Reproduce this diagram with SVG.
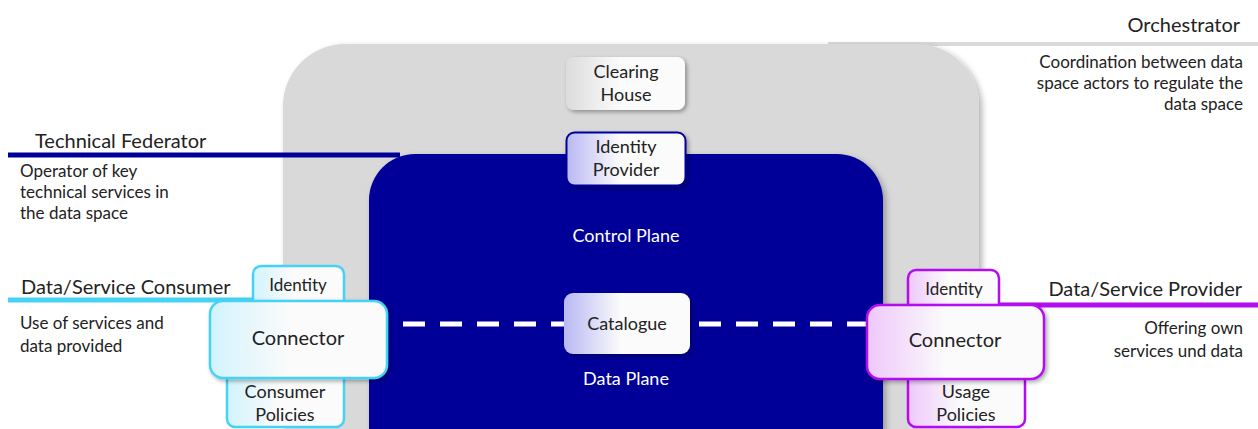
<svg xmlns="http://www.w3.org/2000/svg" width="1258" height="429" viewBox="0 0 1258 429">
<style>
text{font-family:Lato,"Noto Sans",sans-serif;fill:#222}
.lbl{font-size:20px}
.desc{font-size:17px}
.box{font-size:18px;text-anchor:middle}
.big{font-size:20px;text-anchor:middle}
.w{fill:#fff;font-size:18px;text-anchor:middle}
.end{text-anchor:end}
</style>
<defs>
<filter id="sh" x="-20%" y="-20%" width="150%" height="150%">
<feDropShadow dx="2" dy="2" stdDeviation="2" flood-color="#000" flood-opacity="0.35"/>
</filter>
<filter id="shg" x="-10%" y="-10%" width="130%" height="130%">
<feDropShadow dx="3" dy="3" stdDeviation="3" flood-color="#000" flood-opacity="0.3"/>
</filter>
<linearGradient id="gGray" x1="0" x2="1" y1="0" y2="0">
<stop offset="0" stop-color="#dcdcdc"/><stop offset="0.45" stop-color="#fbfbfb"/><stop offset="1" stop-color="#fbfbfb"/>
</linearGradient>
<linearGradient id="gBlue" x1="0" x2="1" y1="0" y2="0">
<stop offset="0" stop-color="#b8b8f4"/><stop offset="0.45" stop-color="#fbfbfb"/><stop offset="1" stop-color="#fbfbfb"/>
</linearGradient>
<linearGradient id="gCyan" x1="0" x2="1" y1="0" y2="0">
<stop offset="0" stop-color="#d2f3fc"/><stop offset="0.45" stop-color="#fbfbfb"/><stop offset="1" stop-color="#fbfbfb"/>
</linearGradient>
<linearGradient id="gPurp" x1="0" x2="1" y1="0" y2="0">
<stop offset="0" stop-color="#eec8fb"/><stop offset="0.45" stop-color="#fbfbfb"/><stop offset="1" stop-color="#fbfbfb"/>
</linearGradient>
</defs>
<rect width="1258" height="429" fill="#fff"/>

<g id="orchestrator">
<line x1="828" y1="44" x2="1258" y2="44" stroke="#d9d9d9" stroke-width="4"/>
<rect x="283" y="44" width="696" height="430" rx="62" fill="#d9d9d9" filter="url(#shg)"/>
<text class="lbl end" x="1240" y="32">Orchestrator</text>
<text class="desc end" x="1243" y="68">Coordination between data</text>
<text class="desc end" x="1243" y="89">space actors to regulate the</text>
<text class="desc end" x="1243" y="110">data space</text>
</g>

<g id="technical-federator">
<line x1="8" y1="155" x2="400" y2="155" stroke="#000099" stroke-width="5"/>
<rect x="369" y="154" width="514" height="320" rx="46" fill="#000099" filter="url(#shg)"/>
<text class="lbl" x="35" y="148">Technical Federator</text>
<text class="desc" x="20" y="177">Operator of key</text>
<text class="desc" x="20" y="198">technical services in</text>
<text class="desc" x="20" y="219">the data space</text>
<text class="w" x="626" y="242">Control Plane</text>
<text class="w" x="626" y="385">Data Plane</text>
</g>

<g id="connectors">
<line x1="403" y1="324" x2="866" y2="324" stroke="#fff" stroke-width="5" stroke-dasharray="22 15"/>
<line x1="8" y1="300" x2="254" y2="300" stroke="#45d3f5" stroke-width="5"/>
<line x1="998" y1="305" x2="1258" y2="305" stroke="#b30cf0" stroke-width="5"/>
</g>

<g id="clearing-house">
<rect x="566" y="57" width="119" height="53" rx="8" fill="url(#gGray)" filter="url(#sh)"/>
<text class="box" x="626" y="78">Clearing</text>
<text class="box" x="626" y="101">House</text>
</g>

<g id="identity-provider">
<rect x="566.5" y="132.5" width="119" height="53" rx="8" fill="url(#gBlue)" stroke="#000099" stroke-width="2" filter="url(#sh)"/>
<text class="box" x="626" y="153">Identity</text>
<text class="box" x="626" y="176">Provider</text>
</g>

<g id="catalogue">
<rect x="564" y="293" width="126" height="61" rx="9" fill="url(#gBlue)" filter="url(#sh)"/>
<text class="box" x="627" y="330">Catalogue</text>
</g>

<g id="consumer">
<text class="lbl" x="21" y="294">Data/Service Consumer</text>
<text class="desc" x="20" y="329">Use of services and</text>
<text class="desc" x="20" y="352">data provided</text>
<rect x="253" y="266" width="91" height="44" rx="8" fill="url(#gCyan)" stroke="#45d3f5" stroke-width="2.5"/>
<text class="box" x="298" y="291" style="font-size:17px">Identity</text>
<rect x="227" y="370" width="117" height="57" rx="8" fill="url(#gCyan)" stroke="#45d3f5" stroke-width="2.5"/>
<text class="box" x="285" y="398">Consumer</text>
<text class="box" x="285" y="421">Policies</text>
<rect x="210" y="301" width="177" height="77" rx="13" fill="url(#gCyan)" stroke="#45d3f5" stroke-width="2.5" filter="url(#sh)"/>
<text class="big" x="298" y="345">Connector</text>
</g>

<g id="provider">
<text class="lbl end" x="1242" y="296">Data/Service Provider</text>
<text class="desc end" x="1243" y="334">Offering own</text>
<text class="desc end" x="1243" y="357">services und data</text>
<rect x="908" y="270" width="91" height="44" rx="8" fill="url(#gPurp)" stroke="#b30cf0" stroke-width="2.5"/>
<text class="box" x="954" y="295" style="font-size:17px">Identity</text>
<rect x="908" y="370" width="117" height="57" rx="8" fill="url(#gPurp)" stroke="#b30cf0" stroke-width="2.5"/>
<text class="box" x="966" y="398">Usage</text>
<text class="box" x="966" y="421">Policies</text>
<rect x="867" y="305" width="177" height="74" rx="13" fill="url(#gPurp)" stroke="#b30cf0" stroke-width="2.5" filter="url(#sh)"/>
<text class="big" x="955" y="347">Connector</text>
</g>
</svg>
